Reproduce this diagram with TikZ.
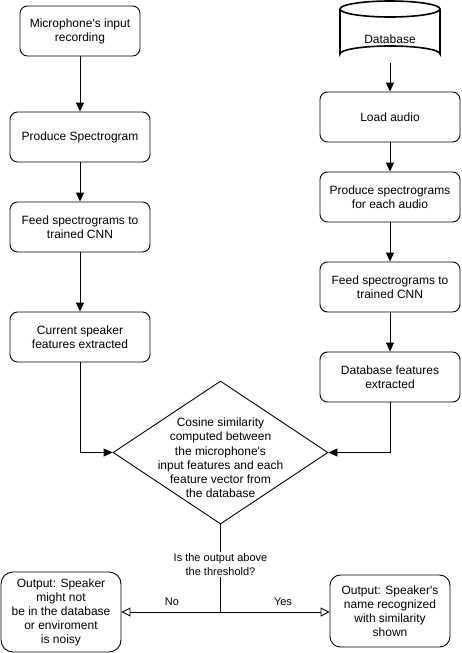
\documentclass[tikz,border=0pt]{standalone}
\usepackage{fontspec}
\setmainfont{Liberation Sans}
\usetikzlibrary{arrows.meta,shapes.geometric}
\newcommand{\apos}{\textquotesingle}
\begin{document}
\begin{tikzpicture}[x=1pt,y=-1pt,
  box/.style={draw, line width=0.9pt, rounded corners=7.5pt, align=center,
    inner sep=0pt, font=\fontsize{12}{14}\selectfont},
  arr/.style={line width=0.9pt, -{Triangle[length=9pt,width=8pt]}},
  oarr/.style={line width=0.9pt, -{Triangle[open,length=9pt,width=9pt,fill=white]}},
  lbl/.style={font=\fontsize{11}{14}\selectfont, align=center, inner sep=1pt}]
\useasboundingbox (0,0) rectangle (461,653);
\fill[white] (0,0) rectangle (461,653);

% left column
\node[box, minimum width=120pt, minimum height=50pt] (mic) at (80,31) {Microphone\apos s input\\recording};
\node[box, minimum width=140pt, minimum height=50pt] (prod) at (80,137) {Produce Spectrogram};
\node[box, minimum width=140pt, minimum height=50pt] (feedL) at (80,227) {Feed spectrograms to\\trained CNN};
\node[box, minimum width=140pt, minimum height=50pt] (curr) at (80,337) {Current speaker\\features extracted};

% right column: database cylinder
\draw[line width=1.6pt] (340,9) -- (340,54) arc[start angle=180,end angle=360,x radius=50,y radius=8]
  -- (440,9);
\draw[line width=1.6pt] (390,9) ellipse[x radius=50, y radius=8];
\node[inner sep=0pt, minimum width=100pt, minimum height=62pt] (db) at (390,31.5) {};
\node[font=\fontsize{12}{14}\selectfont, inner sep=0pt] (dbtext) at (390,39) {Database};

\node[box, minimum width=140pt, minimum height=50pt] (load) at (390,117) {Load audio};
\node[box, minimum width=140pt, minimum height=50pt] (prodR) at (390,197) {Produce spectrograms\\for each audio};
\node[box, minimum width=140pt, minimum height=50pt] (feedR) at (390,287) {Feed spectrograms to\\trained CNN};
\node[box, minimum width=140pt, minimum height=50pt] (dbf) at (390,377) {Database features\\extracted};

% decision
\node[draw, diamond, line width=0.9pt, minimum width=215pt, minimum height=143pt, inner sep=0pt] (dia) at (220.5,452.5) {};
\node[font=\fontsize{12}{14.2}\selectfont, align=center, inner sep=0pt] (diatext) at (220.5,458) {Cosine similarity\\computed between\\ the microphone\apos s\\input features and each\\feature vector from\\the database};

% outputs
\node[box, rounded corners=12pt, minimum width=120pt, minimum height=80pt] (outL) at (61,612) {Output: Speaker\\might not\\be in the database\\or enviroment\\ is noisy};
\node[box, rounded corners=10.5pt, minimum width=120pt, minimum height=72pt] (outR) at (390,611) {Output: Speaker\apos s\\name recognized\\with similarity\\shown};

% connectors
\draw[arr] (mic.south) -- (prod.north);
\draw[arr] (prod.south) -- (feedL.north);
\draw[arr] (feedL.south) -- (curr.north);
\draw[arr] (curr.south) |- (dia.west);

\draw[arr] (db.south) -- (load.north);
\draw[arr] (load.south) -- (prodR.north);
\draw[arr] (prodR.south) -- (feedR.north);
\draw[arr] (feedR.south) -- (dbf.north);
\draw[arr] (dbf.south) |- (dia.east);

\coordinate (split) at (220.5,612);
\draw[line width=0.9pt] (dia.south) -- (split);
\draw[oarr] (split) -- (split -| outL.east);
\draw[oarr] (split) -- (split -| outR.west);

\node[lbl, fill=white] (q) at (220.5,564.5) {Is the output above\\the threshold?};
\node[lbl] (no) at (172,601.5) {No};
\node[lbl] (yes) at (283,601.5) {Yes};
\end{tikzpicture}
\end{document}
